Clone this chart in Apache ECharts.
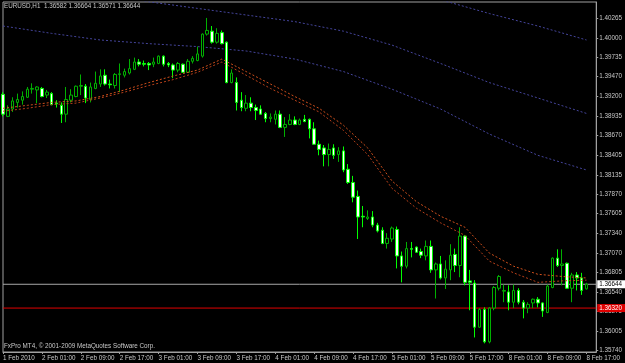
<!DOCTYPE html>
<html><head><meta charset="utf-8">
<script src="https://cdn.jsdelivr.net/npm/echarts@6/dist/echarts.min.js"></script>
<style>html,body{margin:0;padding:0;background:#000;}#c{width:625px;height:363px;}</style>
</head><body><div id="c"></div>
<script>
// ---- data (EURUSD H1) ----
const tickLabels = ['1 Feb 2010','2 Feb 01:00','2 Feb 09:00','2 Feb 17:00','3 Feb 01:00','3 Feb 09:00','3 Feb 17:00','4 Feb 01:00','4 Feb 09:00','4 Feb 17:00','5 Feb 01:00','5 Feb 09:00','5 Feb 17:00','8 Feb 01:00','8 Feb 09:00','8 Feb 17:00'];
const barsPerLabel = 8;
const totalSlots = 123;
const priceTicks = [1.35740,1.36005,1.36275,1.36540,1.36805,1.37070,1.37340,1.37605,1.37870,1.38135,1.38405,1.38670,1.38935,1.39200,1.39470,1.39735,1.40000,1.40265];
const yMin = 1.35722, yMax = 1.40487;
const bidPrice = 1.36644;
const redLevel = 1.36320;

const opens = [1.3923,1.3893,1.3903,1.3912,1.3915,1.3919,1.3930,1.3929,1.3931,1.3922,
1.3924,1.3911,1.3908,1.3896,1.3915,1.3920,1.3934,1.3934,1.3916,1.3931,
1.3937,1.3949,1.3937,1.3935,1.3950,1.3949,1.3952,1.3957,1.3967,1.3965,
1.3965,1.3964,1.3965,1.3975,1.3965,1.3963,1.3956,1.3964,1.3953,1.3968,
1.3969,1.3975,1.4005,1.4009,1.3994,1.4007,1.3994,1.3939,1.3939,1.3915,
1.3904,1.3911,1.3905,1.3903,1.3897,1.3890,1.3889,1.3896,1.3878,1.3882,
1.3888,1.3882,1.3889,1.3889,1.3876,1.3855,1.3850,1.3841,1.3850,1.3841,
1.3846,1.3821,1.3803,1.3784,1.3757,1.3754,1.3756,1.3745,1.3738,1.3720,
1.3726,1.3739,1.3703,1.3689,1.3713,1.3715,1.3709,1.3703,1.3716,1.3684,
1.3692,1.3673,1.3684,1.3705,1.3690,1.3730,1.3669,1.3666,1.3606,1.3630,
1.3586,1.3632,1.3659,1.3655,1.3654,1.3640,1.3656,1.3640,1.3632,1.3639,
1.3644,1.3639,1.3626,1.3660,1.3700,1.3690,1.3693,1.3659,1.3677,1.3673,
1.36582];
const closes = [1.3896,1.3903,1.3914,1.3916,1.3920,1.3930,1.3931,1.3933,1.3920,1.3926,
1.3909,1.3910,1.3896,1.3916,1.3922,1.3934,1.3935,1.3918,1.3933,1.3938,
1.3948,1.3937,1.3936,1.3950,1.3951,1.3954,1.3958,1.3967,1.3964,1.3964,
1.3963,1.3967,1.3975,1.3964,1.3963,1.3956,1.3965,1.3953,1.3968,1.3972,
1.3978,1.4005,1.4010,1.3994,1.4006,1.3992,1.3939,1.3952,1.3912,1.3905,
1.3911,1.3905,1.3901,1.3896,1.3890,1.3892,1.3896,1.3878,1.3882,1.3888,
1.3882,1.3888,1.3886,1.3876,1.3855,1.3848,1.3841,1.3848,1.3840,1.3846,
1.3820,1.3803,1.3783,1.3756,1.3756,1.3756,1.3745,1.3737,1.3720,1.3727,
1.3741,1.3703,1.3689,1.3713,1.3712,1.3708,1.3704,1.3716,1.3684,1.3692,
1.3673,1.3685,1.3704,1.3690,1.3730,1.3667,1.3667,1.3606,1.3630,1.3586,
1.3632,1.3660,1.3675,1.3656,1.3640,1.3656,1.3640,1.3632,1.3637,1.3644,
1.3639,1.3628,1.3662,1.3700,1.3690,1.3692,1.3659,1.3677,1.3673,1.3656,
1.36644];
const lows = [1.3893,1.3892,1.3899,1.3905,1.3909,1.3918,1.3924,1.3911,1.3919,1.3918,
1.3908,1.3905,1.3884,1.3885,1.3912,1.3919,1.3922,1.3911,1.3912,1.3930,
1.3933,1.3935,1.3931,1.3931,1.3926,1.3946,1.3950,1.3956,1.3961,1.3961,
1.3956,1.3960,1.3964,1.3961,1.3960,1.3945,1.3953,1.3952,1.3952,1.3965,
1.3968,1.3973,1.4003,1.3992,1.3992,1.3991,1.3938,1.3938,1.3901,1.3900,
1.3900,1.3900,1.3888,1.3895,1.3885,1.3885,1.3882,1.3877,1.3865,1.3881,
1.3881,1.3881,1.3885,1.3863,1.3854,1.3840,1.3825,1.3825,1.3835,1.3831,
1.3817,1.3801,1.3776,1.3726,1.3742,1.3752,1.3742,1.3735,1.3719,1.3713,
1.3722,1.3686,1.3667,1.3686,1.3701,1.3707,1.3700,1.3697,1.3680,1.3645,
1.3671,1.3658,1.3670,1.3681,1.3674,1.3663,1.3629,1.3592,1.3605,1.3584,
1.3584,1.3629,1.3656,1.3640,1.3629,1.3632,1.3637,1.3618,1.3625,1.3632,
1.3633,1.3620,1.3625,1.3659,1.3688,1.3663,1.3658,1.3640,1.3656,1.3650,
1.36571];
const highs = [1.3926,1.3908,1.3919,1.3924,1.3927,1.3933,1.3938,1.3934,1.3933,1.3929,
1.3926,1.3915,1.3912,1.3933,1.3930,1.3935,1.3950,1.3937,1.3939,1.3954,
1.3957,1.3957,1.3943,1.3952,1.3965,1.3958,1.3971,1.3973,1.3971,1.3969,
1.3967,1.3973,1.3976,1.3976,1.3967,1.3965,1.3967,1.3965,1.3971,1.3975,
1.3988,1.4006,1.4027,1.4016,1.4013,1.4010,1.3995,1.3957,1.3946,1.3926,
1.3922,1.3919,1.3909,1.3908,1.3899,1.3897,1.3901,1.3901,1.3892,1.3896,
1.3893,1.3890,1.3895,1.3890,1.3885,1.3860,1.3854,1.3856,1.3855,1.3851,
1.3852,1.3828,1.3812,1.3792,1.3771,1.3765,1.3764,1.3748,1.3742,1.3734,
1.3743,1.3743,1.3709,1.3722,1.3722,1.3716,1.3713,1.3724,1.3724,1.3694,
1.3703,1.3697,1.3719,1.3713,1.3742,1.3731,1.3684,1.3670,1.3632,1.3633,
1.3633,1.3662,1.3677,1.3664,1.3663,1.3664,1.3659,1.3643,1.3640,1.3645,
1.3647,1.3640,1.3664,1.3701,1.3712,1.3712,1.3694,1.3680,1.3681,1.3680,
1.36664];

// moving-average style overlays, sampled at bar index
const orangeIdx = [0,5,10,15,20,25,30,35,40,45,50,55,60,65,70,75,80,85,90,95,100,105,110,115,120];
const orangeUpper = [1.3904,1.3908,1.3912,1.3914,1.3920,1.3929,1.3939,1.3948,1.3956,1.3971,1.3954,1.3937,1.3920,1.3904,1.3881,1.3850,1.3805,1.3777,1.3757,1.3742,1.3707,1.3689,1.3678,1.3675,1.3673];
const orangeLower = [1.3900,1.3904,1.3909,1.3911,1.3918,1.3926,1.3935,1.3943,1.3953,1.3967,1.3949,1.3931,1.3915,1.3899,1.3874,1.3841,1.3795,1.3768,1.3748,1.3731,1.3696,1.3680,1.3667,1.3669,1.3670];
const blueIdxA = [0,10,20,30,40,50,60,70,80,90,100,110,120];
const blueLow = [1.4016,1.4006,1.3997,1.3992,1.3988,1.3982,1.3971,1.3954,1.3930,1.3903,1.3869,1.3840,1.3820];
const blueMidIdx = [25,30,40,50,60,70,80,90,100,110,120];
const blueMid = [1.4054,1.4049,1.4040,1.4031,1.4022,1.4009,1.3990,1.3965,1.3939,1.3918,1.3897];
const blueTopIdx = [88,92,100,110,120];
const blueTop = [1.4055,1.4048,1.4033,1.4016,1.3997];

// ---- build ----
const cats = [];
for (let i = 0; i < totalSlots; i++) cats.push(String(i));
const candles = opens.map((o, i) => [o, closes[i], lows[i], highs[i]]);
const pairs = (xs, ys) => xs.map((x, i) => [x, ys[i]]);
const isLabel = (i) => i % barsPerLabel === 0 && i / barsPerLabel < tickLabels.length;
const FONT = 'Liberation Sans';
const TXT = '#c8c8c8';
const levelSeries = (price, lineColor, fg, bg) => ({
  type: 'line', data: [[0, price], [totalSlots - 1, price]], symbol: 'none', z: 2, silent: true,
  lineStyle: {color: lineColor, width: 1, type: 'solid'},
  endLabel: {show: true, formatter: price.toFixed(5), color: fg, backgroundColor: bg,
    fontFamily: FONT, fontSize: 6.3, padding: [1, 3, 1, 2], distance: 1}
});

const chart = echarts.init(document.getElementById('c'), null, {renderer: 'canvas'});
chart.setOption({
  backgroundColor: '#000',
  animation: false,
  grid: {left: 2, top: 2, right: 23, bottom: 11, show: true, borderColor: '#a0a0a0', borderWidth: 1, backgroundColor: '#000'},
  xAxis: {
    type: 'category', data: cats, boundaryGap: false,
    axisLine: {show: true, lineStyle: {color: '#a0a0a0', width: 1}},
    axisTick: {show: true, length: 2, interval: (i) => isLabel(i), lineStyle: {color: '#a0a0a0'}},
    axisLabel: {show: true, interval: (i) => isLabel(i), formatter: (v, i) => tickLabels[i / barsPerLabel] || '',
      color: TXT, fontFamily: FONT, fontSize: 6.3, align: 'left', margin: 3},
    splitLine: {show: false}
  },
  yAxis: {
    type: 'value', position: 'right', min: yMin, max: yMax, scale: true,
    axisLine: {show: true, lineStyle: {color: '#a0a0a0'}},
    axisTick: {show: true, length: 2, customValues: priceTicks, lineStyle: {color: '#a0a0a0'}},
    axisLabel: {show: true, customValues: priceTicks, formatter: (v) => v.toFixed(5), color: TXT, fontFamily: FONT, fontSize: 6.3, margin: 3},
    splitLine: {show: false}
  },
  graphic: [
    {type: 'text', left: 4, top: 3, z: 100, style: {text: 'EURUSD,H1  1.36582 1.36664 1.36571 1.36644', fill: TXT, fontFamily: FONT, fontSize: 6.3}},
    {type: 'text', left: 4, top: 343, z: 100, style: {text: 'FxPro MT4, \u00a9 2001-2009 MetaQuotes Software Corp.', fill: TXT, fontFamily: FONT, fontSize: 6.3}}
  ],
  series: [
    {type: 'line', data: pairs(blueIdxA, blueLow), symbol: 'none', lineStyle: {color: '#44449a', width: 1, type: [2, 2]}, z: 2},
    {type: 'line', data: pairs(blueMidIdx, blueMid), symbol: 'none', lineStyle: {color: '#44449a', width: 1, type: [2, 2]}, z: 2},
    {type: 'line', data: pairs(blueTopIdx, blueTop), symbol: 'none', lineStyle: {color: '#44449a', width: 1, type: [2, 2]}, z: 2},
    levelSeries(bidPrice, '#a8a8a8', '#000', '#fff'),
    levelSeries(redLevel, '#e00000', '#fff', '#e00000'),
    {
      type: 'candlestick', data: candles, barWidth: 3, z: 3,
      itemStyle: {color: '#000', color0: '#ffffff', borderColor: '#00b000', borderColor0: '#00ff00', borderWidth: 1}
    },
    {type: 'line', data: pairs(orangeIdx, orangeUpper), symbol: 'none', lineStyle: {color: '#d0501c', width: 1, type: [2, 2]}, z: 4},
    {type: 'line', data: pairs(orangeIdx, orangeLower), symbol: 'none', lineStyle: {color: '#b8401a', width: 1, type: [2, 2]}, z: 4}
  ]
});
</script></body></html>
